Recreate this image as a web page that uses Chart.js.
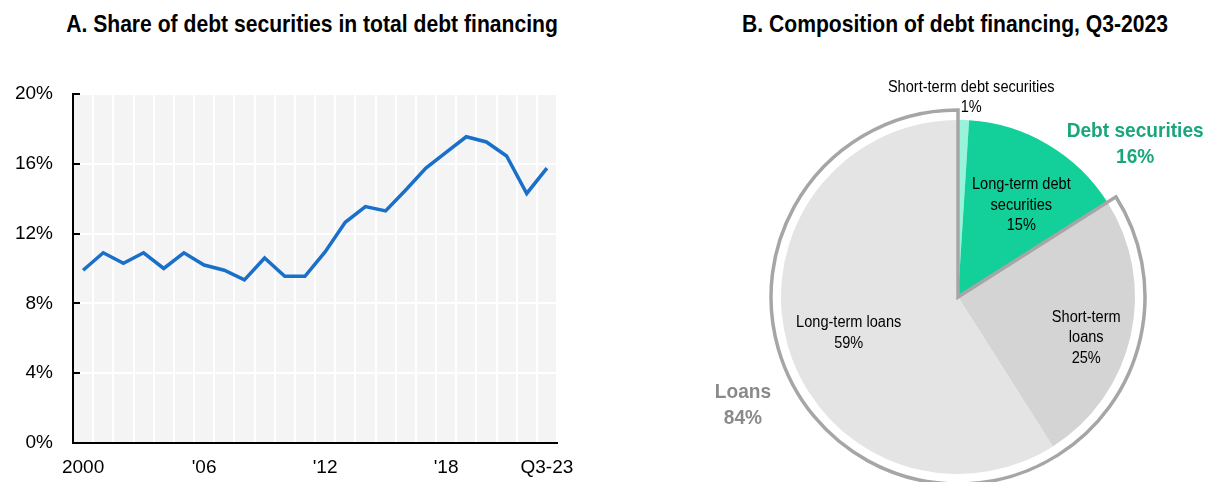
<!DOCTYPE html>
<html>
<head>
<meta charset="utf-8">
<script src="https://cdn.jsdelivr.net/npm/chart.js@4.4.0/dist/chart.umd.min.js"></script>
<style>
  body { margin: 0; width: 1207px; height: 482px; overflow: hidden; background: #fff; position: relative; }
  .ttl { position: absolute; top: 10px; font: bold 24px 'Liberation Sans', Arial, sans-serif; color: #000; white-space: nowrap; transform: translateX(-50%) scaleX(0.88); }
  canvas { position: absolute; top: 0; left: 0; }
</style>
</head>
<body>
<div class="ttl" style="left:312px">A. Share of debt securities in total debt financing</div>
<div class="ttl" style="left:955px">B. Composition of debt financing, Q3-2023</div>
<div style="position:absolute;left:0;top:0;width:600px;height:482px"><canvas id="lineChart" width="600" height="482"></canvas></div>
<div style="position:absolute;left:600px;top:0;width:607px;height:482px"><canvas id="pieChart" width="607" height="482"></canvas></div>
<div style="position:absolute;left:600px;top:0;width:607px;height:482px;pointer-events:none"><canvas id="pieOutline" width="607" height="482"></canvas></div>
<script>
'use strict'
const FONT = "'Liberation Sans', Arial, sans-serif";

// panel A
let years = ['2000','2001','2002','2003','2004','2005','2006','2007','2008','2009','2010','2011',
  '2012','2013','2014','2015','2016','2017','2018','2019','2020','2021','2022','Q3-23'];
let debtShare = [9.9, 10.9, 10.3, 10.9, 10.0, 10.9, 10.2, 9.9, 9.35, 10.6, 9.55, 9.55,
  10.95, 12.65, 13.55, 13.3, 14.5, 15.75, 16.65, 17.55, 17.25, 16.45, 14.3, 15.75];
let shownYears = ['2000', '2006', '2012', '2018', 'Q3-23'];
let yTicks = [0, 4, 8, 12, 16, 20];

// panel B
let sliceNames = ['Short-term debt securities', 'Long-term debt securities', 'Short-term loans', 'Long-term loans'];
let sliceValues = [1, 15, 25, 59];
let groupNames = ['Debt securities', 'Loans'];
let groupValues = [16, 84];

const plotBg = {
  id: 'plotBg',
  beforeDraw(chart){
    let a = chart.chartArea;
    let ctx = chart.ctx;
    ctx.save();
    ctx.fillStyle = '#f4f4f4';
    ctx.fillRect(a.left, a.top, a.right - a.left, a.bottom - a.top);
    ctx.restore();
  }
};

function yearLabel(lbl){
  if (lbl === '2000' || lbl.startsWith('Q')) return lbl;
  return "'" + lbl.slice(2);
}

new Chart(document.getElementById('lineChart'), {
  type: 'line',
  data: {
    labels: years,
    datasets: [{
      data: debtShare,
      borderColor: '#1a6fc9',
      borderWidth: 3.5,
      pointRadius: 0,
      tension: 0,
      fill: false
    }]
  },
  options: {
    responsive: false,
    animation: false,
    devicePixelRatio: 1,
    layout: { padding: { top: 94, right: 43, bottom: 0, left: 0 } },
    plugins: { legend: { display: false }, tooltip: { enabled: false } },
    scales: {
      x: {
        offset: true,
        grid: { offset: true, color: '#ffffff', lineWidth: 2, drawTicks: false },
        border: { color: '#000', width: 2 },
        afterFit(scale){ scale.height = 39; },
        ticks: {
          autoSkip: false, maxRotation: 0, padding: 13, color: '#000',
          font: { family: FONT, size: 19 },
          callback(v){
            let lbl = years[v];
            return shownYears.includes(lbl) ? yearLabel(lbl) : '';
          }
        }
      },
      y: {
        min: 0, max: 20,
        afterBuildTicks(scale){ scale.ticks = yTicks.map(v => ({ value: v })); },
        afterFit(scale){ scale.width = 73; },
        // negative tick length -> tick marks point into the plot
        grid: { color: '#ffffff', lineWidth: 2, tickColor: '#000', tickLength: -7, tickWidth: 2 },
        border: { color: '#000', width: 2 },
        ticks: {
          padding: 27, color: '#000',
          font: { family: FONT, size: 19 },
          callback(v){ return v + '%'; }
        }
      }
    }
  },
  plugins: [plotBg]
});

// label notes for the pie: slice indexes, angle nudge (deg), radius factor
let pieNotes = [
  { lines: [sliceNames[0], sliceValues[0] + '%'], slices: [0], da: 2, r: 1.13, size: 16, bold: false, color: '#000', lh: 20 },
  { lines: ['Long-term debt', 'securities', sliceValues[1] + '%'], slices: [1], da: 4, r: 0.63, size: 16, bold: false, color: '#000', lh: 20.5 },
  { lines: ['Short-term', 'loans', sliceValues[2] + '%'], slices: [2], da: 5, r: 0.76, size: 16, bold: false, color: '#000', lh: 20.5 },
  { lines: [sliceNames[3], sliceValues[3] + '%'], slices: [3], da: -2, r: 0.65, size: 16, bold: false, color: '#000', lh: 20.5 },
  { lines: [groupNames[0], groupValues[0] + '%'], slices: [0, 1], da: 20.5, r: 1.32, size: 21, bold: true, color: '#19a67b', lh: 26 },
  { lines: [groupNames[1], groupValues[1] + '%'], slices: [2, 3], da: 34.5, r: 1.36, size: 21, bold: true, color: '#8a8a8a', lh: 26 }
];

const pieText = {
  id: 'pieText',
  afterDatasetsDraw(chart){
    let arcs = chart.getDatasetMeta(0).data;
    let ctx = chart.ctx;
    pieNotes.forEach(n => {
      let first = arcs[n.slices[0]];
      let last = arcs[n.slices[n.slices.length - 1]];
      let mid = (first.startAngle + last.endAngle) / 2 + n.da * Math.PI / 180;
      let cx = first.x + Math.cos(mid) * first.outerRadius * n.r;
      let cy = first.y + Math.sin(mid) * first.outerRadius * n.r;
      let top = cy - (n.lines.length - 1) * n.lh / 2;
      ctx.save();
      ctx.translate(cx, top);
      ctx.scale(0.91, 1);   // narrow face
      ctx.textAlign = 'center';
      ctx.textBaseline = 'middle';
      ctx.fillStyle = n.color;
      ctx.font = (n.bold ? 'bold ' : '') + n.size + 'px ' + FONT;
      n.lines.forEach((t, i) => ctx.fillText(t, 0, i * n.lh));
      ctx.restore();
    });
  }
};

let piePadding = { top: 127, right: 79, bottom: 15, left: 188 };

new Chart(document.getElementById('pieChart'), {
  type: 'pie',
  data: {
    labels: sliceNames,
    datasets: [{
      data: sliceValues,
      backgroundColor: ['#98f3da', '#13cf9a', '#d4d4d4', '#e4e4e4'],
      borderWidth: 0
    }]
  },
  options: {
    responsive: false,
    animation: false,
    devicePixelRatio: 1,
    radius: 177,
    layout: { padding: piePadding },
    plugins: { legend: { display: false }, tooltip: { enabled: false } }
  },
  plugins: [pieText]
});

// outline around the loans group, drawn on top
new Chart(document.getElementById('pieOutline'), {
  type: 'pie',
  data: {
    labels: groupNames,
    datasets: [{
      data: groupValues,
      backgroundColor: ['rgba(0,0,0,0)', 'rgba(0,0,0,0)'],
      borderColor: ['rgba(0,0,0,0)', '#a6a6a6'],
      borderWidth: [0, 3.5],
      borderJoinStyle: 'miter'
    }]
  },
  options: {
    responsive: false,
    animation: false,
    devicePixelRatio: 1,
    radius: 187,
    layout: { padding: piePadding },
    plugins: { legend: { display: false }, tooltip: { enabled: false } }
  }
});
</script>
</body>
</html>
